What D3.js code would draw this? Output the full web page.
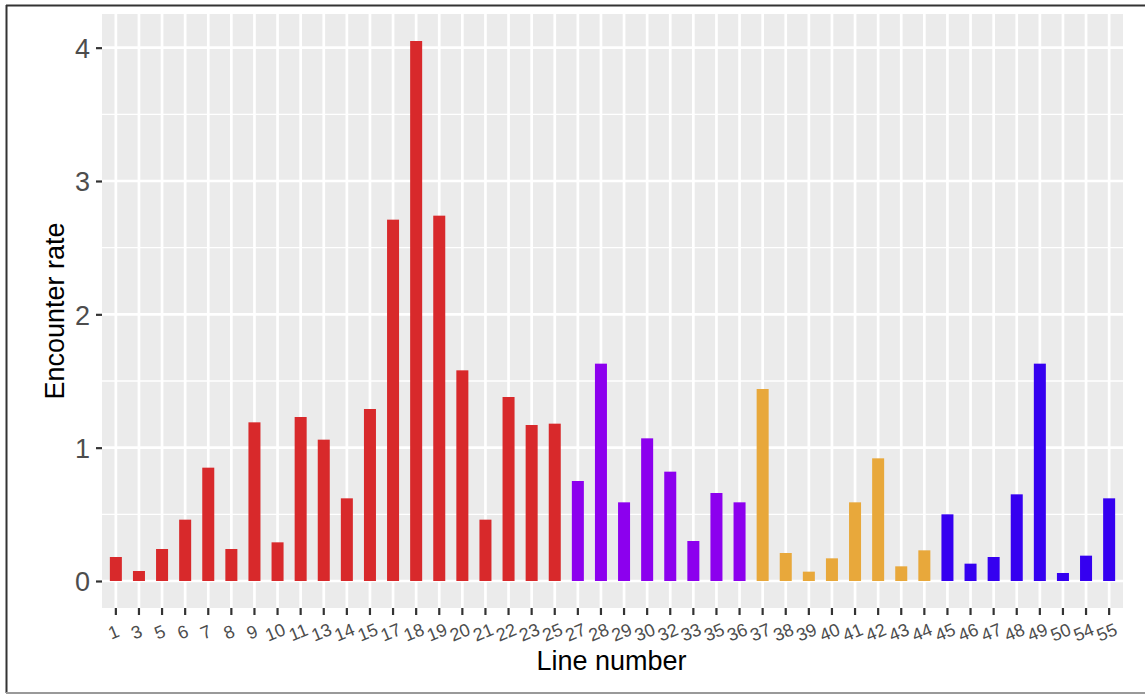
<!DOCTYPE html>
<html><head><meta charset="utf-8">
<script src="https://cdn.jsdelivr.net/npm/d3@7"></script>
<style>body{margin:0;background:#fff;} text{font-family:"Liberation Sans",Arial,sans-serif;}</style>
</head><body><svg id="c" width="1145" height="695"></svg>
<script>
const lines = ["1","3","5","6","7","8","9","10","11","13","14","15","17","18","19","20","21","22","23","25","27","28","29","30","32","33","35","36","37","38","39","40","41","42","43","44","45","46","47","48","49","50","54","55"];
const rates = [0.18,0.075,0.24,0.46,0.85,0.24,1.19,0.29,1.23,1.06,0.62,1.29,2.71,4.05,2.74,1.58,0.46,1.38,1.17,1.18,0.75,1.63,0.59,1.07,0.82,0.30,0.66,0.59,1.44,0.21,0.07,0.17,0.59,0.92,0.11,0.23,0.50,0.13,0.18,0.65,1.63,0.06,0.19,0.62];
const groups = ["A","A","A","A","A","A","A","A","A","A","A","A","A","A","A","A","A","A","A","A","B","B","B","B","B","B","B","B","C","C","C","C","C","C","C","C","D","D","D","D","D","D","D","D"];
const groupNames = ["A","B","C","D"];
const groupColors = ["#D8292B","#8C00EE","#E8A83B","#3500F0"];
const yTicks = [0,1,2,3,4];

const svg = d3.select("#c");
const L=102, R=1123, T=14, B=608;
const x = d3.scaleBand().domain(lines).range([L,R]).paddingOuter(0.1).paddingInner(0).align(0.5);
const col = d3.scaleOrdinal().domain(groupNames).range(groupColors);
const y = d3.scaleLinear().domain([-0.2025,4.2525]).range([B,T]);

// outer border
svg.append("line").attr("x1",6.5).attr("x2",6.5).attr("y1",5).attr("y2",693).attr("stroke","#333").attr("stroke-width",2);
svg.append("line").attr("x1",6).attr("x2",1145).attr("y1",5.5).attr("y2",5.5).attr("stroke","#333").attr("stroke-width",2);
svg.append("line").attr("x1",6).attr("x2",1145).attr("y1",693).attr("y2",693).attr("stroke","#999").attr("stroke-width",2);

svg.append("rect").attr("x",L).attr("y",T).attr("width",R-L).attr("height",B-T).attr("fill","#EBEBEB");
const g = svg.append("g");
d3.range(-0.5,4.5,1).filter(v=>v>y.domain()[0]&&v<y.domain()[1]).forEach(v=>{
  g.append("line").attr("x1",L).attr("x2",R).attr("y1",y(v)).attr("y2",y(v)).attr("stroke","#fff").attr("stroke-width",1.3);
});
yTicks.forEach(v=>{
  g.append("line").attr("x1",L).attr("x2",R).attr("y1",y(v)).attr("y2",y(v)).attr("stroke","#fff").attr("stroke-width",2.7);
});
const cx = d=>x(d)+x.bandwidth()/2;
lines.forEach(d=>{
  g.append("line").attr("x1",cx(d)).attr("x2",cx(d)).attr("y1",T).attr("y2",B).attr("stroke","#fff").attr("stroke-width",2.7);
});
const bw = x.bandwidth()*0.52;
g.selectAll("rect.bar").data(lines).enter().append("rect").attr("class","bar")
  .attr("x",d=>cx(d)-bw/2).attr("width",bw)
  .attr("y",(d,i)=>y(rates[i])).attr("height",(d,i)=>y(0)-y(rates[i]))
  .attr("fill",(d,i)=>col(groups[i]));

const ya = svg.append("g").attr("transform",`translate(${L},0)`)
  .call(d3.axisLeft(y).tickValues(yTicks).tickSize(6).tickPadding(6).tickFormat(d3.format("d")));
ya.select(".domain").remove();
ya.selectAll(".tick line").attr("stroke","#333").attr("stroke-width",2.2);
ya.selectAll(".tick text").attr("fill","#4D4D4D").style("font-size","27px").attr("dy","0.36em");

const xa = svg.append("g").attr("transform",`translate(0,${B})`)
  .call(d3.axisBottom(x).tickSize(7).tickPadding(0));
xa.select(".domain").remove();
xa.selectAll(".tick line").attr("stroke","#333").attr("stroke-width",2.2);
xa.selectAll(".tick text").attr("fill","#4D4D4D").style("font-size","18px")
  .attr("text-anchor","middle").attr("y",0).attr("dy",0)
  .attr("transform","translate(0,30) rotate(-22)");

svg.append("text").attr("x",(L+R)/2 - 1).attr("y",670).attr("text-anchor","middle")
  .style("font-size","27px").attr("fill","#000").text("Line number");
svg.append("text").attr("transform",`translate(64,${(T+B)/2}) rotate(-90)`).attr("text-anchor","middle")
  .style("font-size","27px").attr("fill","#000").text("Encounter rate");
</script></body></html>
